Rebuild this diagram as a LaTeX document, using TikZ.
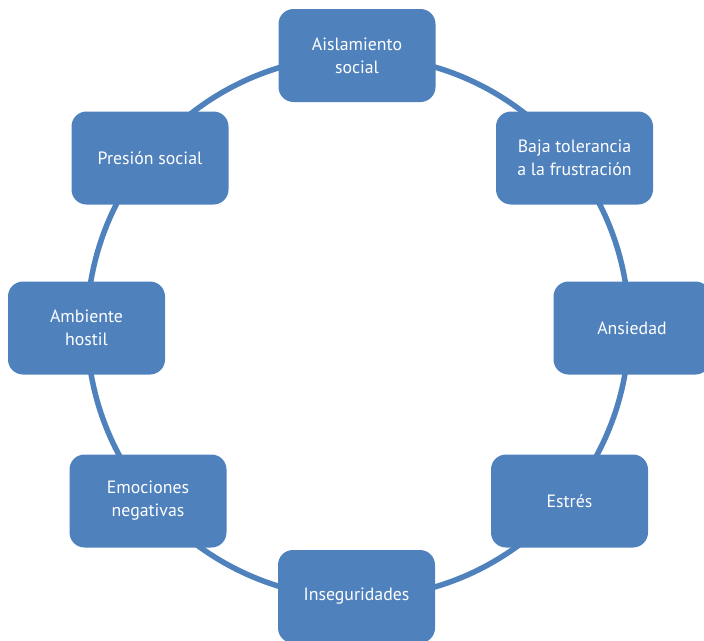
\documentclass[tikz,border=0pt]{standalone}
\usepackage{fontspec}
\setmainfont{PT Sans}
\definecolor{cycleblue}{HTML}{4F81BD}

\begin{document}
\begin{tikzpicture}[x=1pt,y=-1pt]
\tikzset{
	stage/.style={fill=cycleblue,
		rounded corners=15pt,
		minimum width=157pt,
		minimum height=93pt,
		inner sep=0pt,
		text=white,
		align=center,
		font=\fontsize{17.8}{23}\selectfont
}}

\useasboundingbox (0,0) rectangle (704,640);
\clip (0,0) rectangle (704,640);

% the ring behind the boxes
\coordinate (hub) at (358,327);
\draw[cycleblue, line width=5.5pt] (hub) circle[radius=271pt];

\node[stage] (Aislamiento) at (357,55.5) {Aislamiento\\social};
\node[stage] (Baja) at (574.5,158) {Baja tolerancia\\a la frustración};
\node[stage] (Ansiedad) at (632,328) {Ansiedad};
\node[stage] (Estres) at (569.5,501) {Estrés};
\node[stage] (Inseguridades) at (356.5,596.5) {Inseguridades};
\node[stage] (Emociones) at (148,501) {Emociones\\negativas};
\node[stage] (Ambiente) at (86.5,328) {Ambiente\\hostil};
\node[stage] (Presion) at (150,158) {Presión social};
\end{tikzpicture}
\end{document}
